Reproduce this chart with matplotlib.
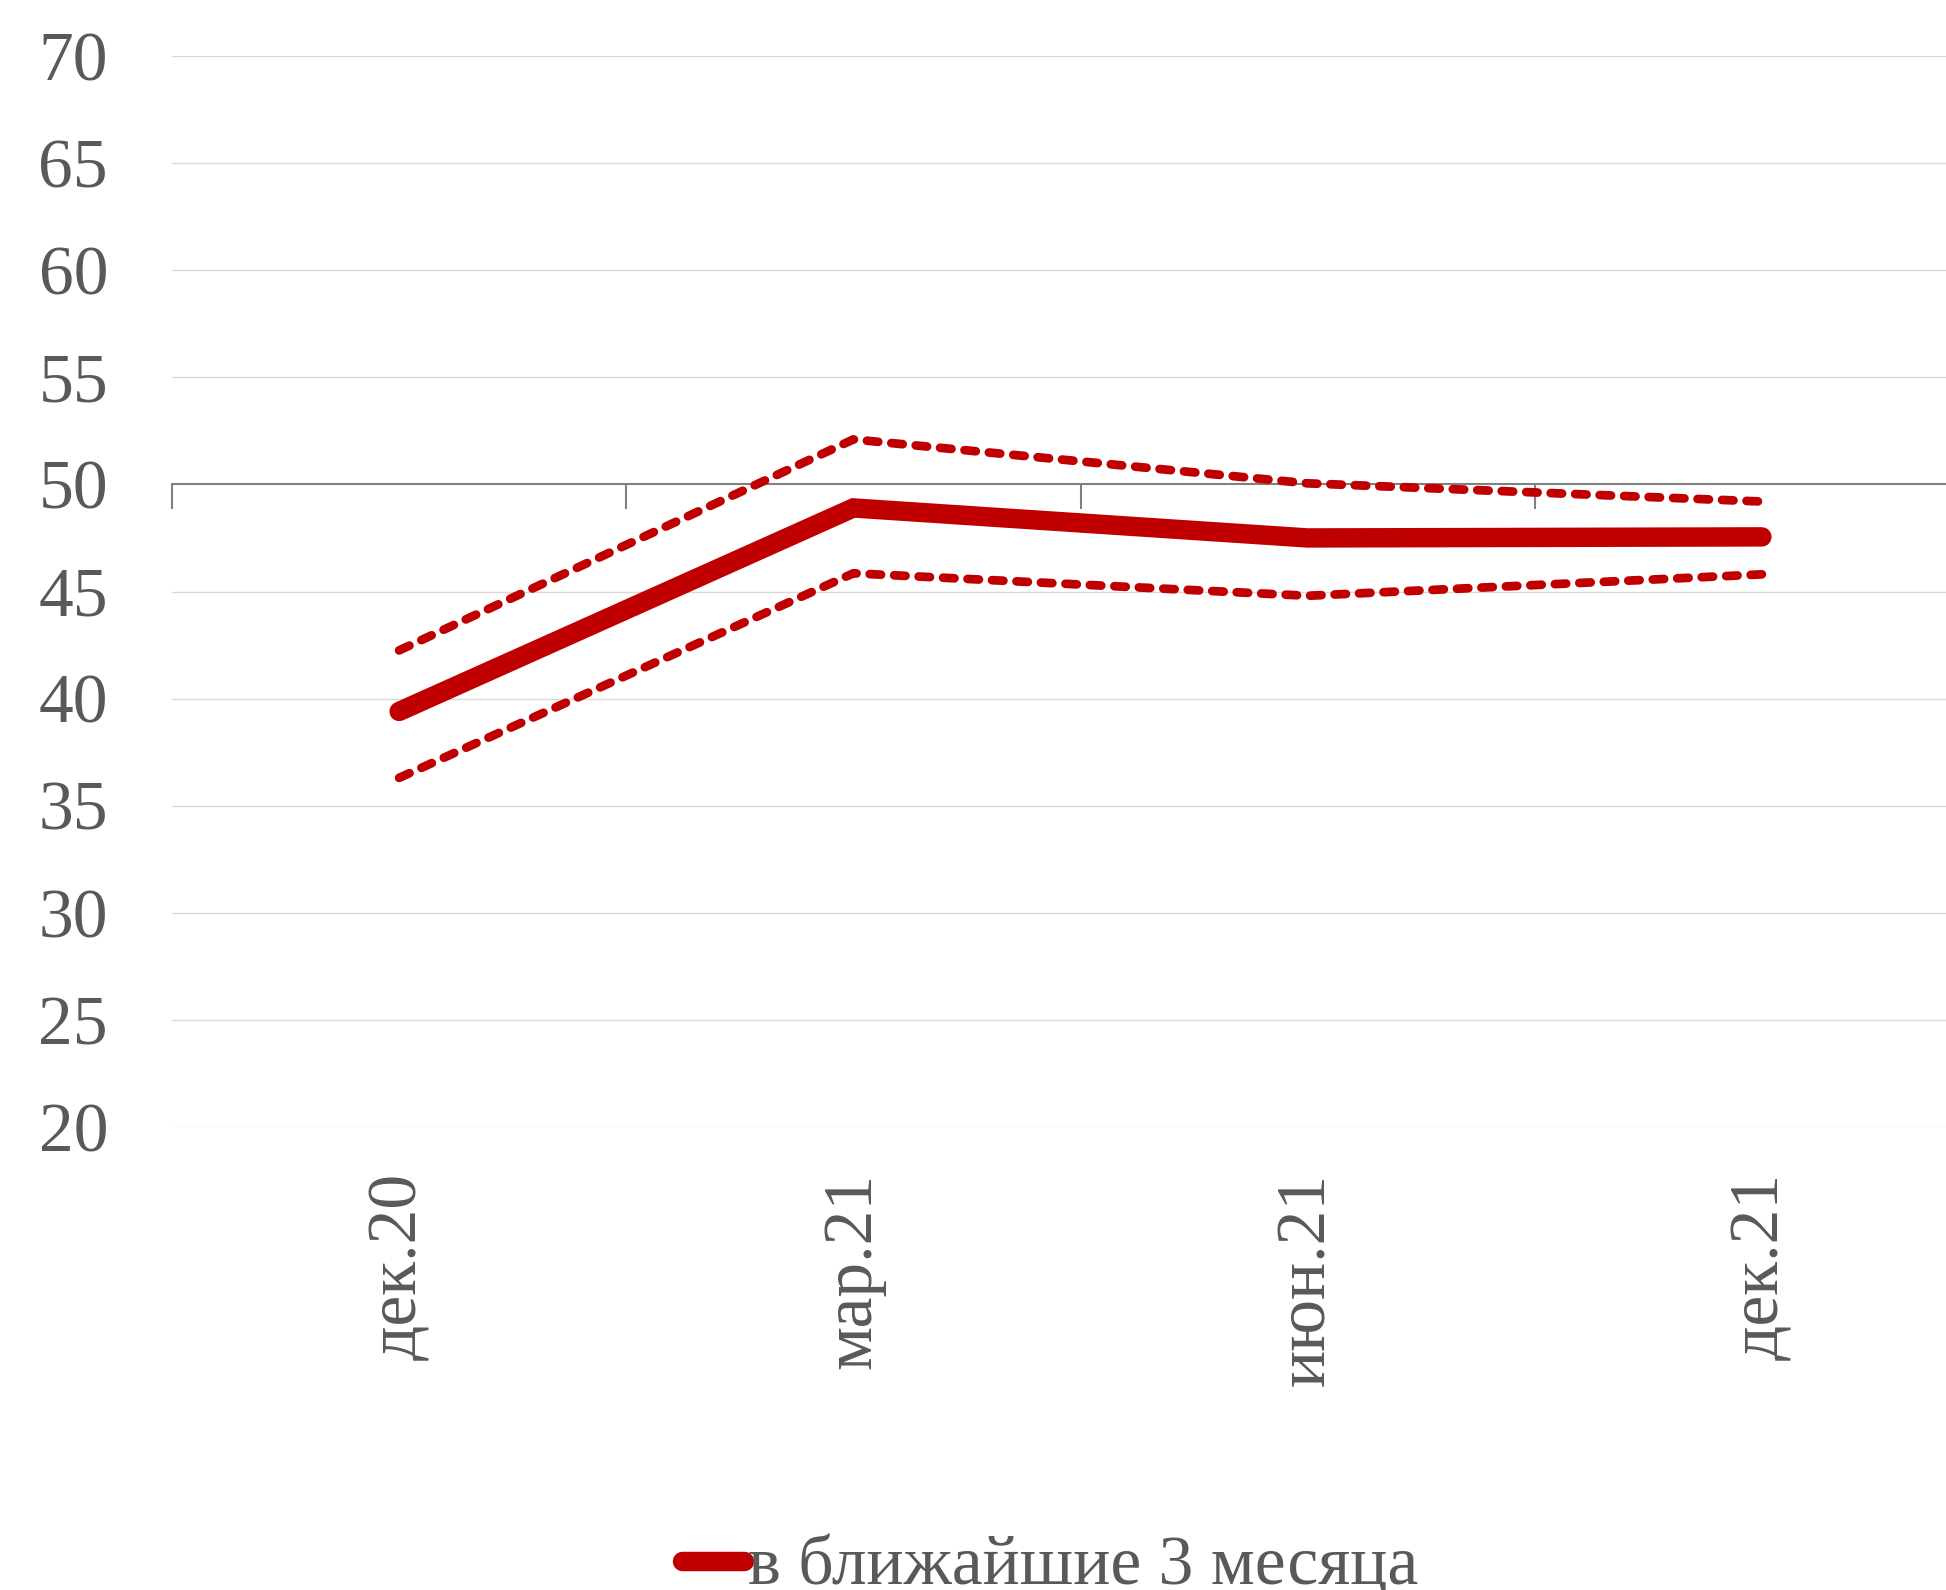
import numpy as np
import matplotlib
matplotlib.use("Agg")
import matplotlib.pyplot as plt

# chart data
categories = ["дек.20", "мар.21", "июн.21", "дек.21"]
main_values = [39.4, 48.9, 47.5, 47.55]
upper_values = [42.25, 52.1, 50.05, 49.2]
lower_values = [36.3, 45.85, 44.8, 45.8]
legend_label = "в ближайшие 3 месяца"
y_ticks = [20, 25, 30, 35, 40, 45, 50, 55, 60, 65, 70]

RED = "#C00000"
TEXT = "#595959"

plt.rcParams['font.family'] = ['Liberation Serif', 'DejaVu Serif']

W, H = 1946, 1590
fig = plt.figure(figsize=(W / 100, H / 100), dpi=100)
left, right = 172 / W, 1989 / W
bottom, top = (H - 1127) / H, (H - 56) / H
ax = fig.add_axes([left, bottom, right - left, top - bottom])

x = np.arange(len(categories))

# grid
for v in y_ticks:
    if v != 50:
        ax.axhline(v, color="#D9D9D9", lw=1.0, zorder=0)

line_main, = ax.plot(x, main_values, color=RED, lw=14,
                     solid_capstyle='round', solid_joinstyle='miter',
                     label=legend_label, zorder=3)
for vals in (upper_values, lower_values):
    ax.plot(x, vals, color=RED, lw=6.3, linestyle=(0, (1.3, 1.5)),
            dash_capstyle='round', zorder=3)

ax.set_xlim(-0.5, len(categories) - 0.5)
ax.set_ylim(20, 70)
for s in ax.spines.values():
    s.set_visible(False)

ax.set_yticks(y_ticks)
ax.tick_params(axis='y', length=0, pad=46, labelsize=50, labelcolor=TEXT)
ax.set_xticks(x)
ax.set_xticklabels(categories, rotation=90, va='top', ha='center')
ax.tick_params(axis='x', length=0, pad=33, labelsize=50, labelcolor=TEXT)

# category axis crossing at 50
cross = ax.secondary_xaxis((50 - 20) / (70 - 20))
for s in cross.spines.values():
    s.set_color("#808080")
    s.set_linewidth(1.5)
cross.set_xticks(np.arange(len(categories) + 1) - 0.5)
cross.set_xticklabels([])
cross.tick_params(axis='x', length=18, width=1.5, color="#808080", direction='in')

fig.legend(handles=[line_main], loc='center', bbox_to_anchor=(1050 / W, 22 / H),
           frameon=False, fontsize=50, labelcolor=TEXT, handlelength=0.9,
           handletextpad=0.05, borderpad=0)

fig.savefig("out.png", dpi=100, facecolor="white")
